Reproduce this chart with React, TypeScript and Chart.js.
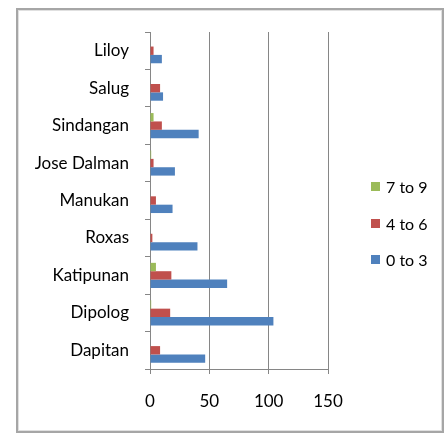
import React, { useEffect, useRef } from "react";
import { Chart, registerables } from "chart.js";

Chart.register(...registerables);

const categories = ["Liloy", "Salug", "Sindangan", "Jose Dalman", "Manukan", "Roxas", "Katipunan", "Dipolog", "Dapitan"];
const series7to9 = [0, 0, 3, 1, 0, 0, 5, 1, 0];
const series4to6 = [3, 8.5, 10, 3, 5, 2, 18, 17, 8.5];
const series0to3 = [10, 11, 41, 21, 19, 40, 65, 104, 46.5];
const xTicks = [0, 50, 100, 150];

const seriesNames = ["7 to 9", "4 to 6", "0 to 3"];
const seriesColors = ["#9BBB59", "#C0504D", "#4F81BD"];
const seriesData = [series7to9, series4to6, series0to3];

const FONT = "Lato, 'Open Sans', sans-serif";
const GRID = "#868686";

export default function App() {
  const ref = useRef<HTMLCanvasElement | null>(null);

  useEffect(() => {
    if (!ref.current) return;
    const chart = new Chart(ref.current, {
      type: "bar",
      data: {
        labels: categories,
        datasets: seriesData.map((d, i) => ({
          label: seriesNames[i],
          data: d,
          backgroundColor: seriesColors[i],
          borderWidth: 0,
          barPercentage: 1,
          categoryPercentage: 0.67,
        })),
      },
      options: {
        indexAxis: "y",
        responsive: false,
        animation: false,
        devicePixelRatio: 1,
        layout: { padding: { top: 32, left: 0, right: 118, bottom: 25 } },
        plugins: {
          legend: { display: false },
          tooltip: { enabled: false },
        },
        scales: {
          y: {
            type: "category",
            grid: {
              display: true,
              drawOnChartArea: false,
              offset: true,
              tickLength: 5,
              color: GRID,
            },
            border: { display: true, color: GRID, width: 1 },
            ticks: { padding: 16, color: "#000", font: { family: FONT, size: 17 } },
            afterFit: (scale: any) => {
              scale.width = 150;
            },
          },
          x: {
            type: "linear",
            min: 0,
            max: 150,
            afterBuildTicks: (scale: any) => {
              scale.ticks = xTicks.map((v) => ({ value: v }));
            },
            grid: { color: GRID, tickLength: 5, drawTicks: true },
            border: { display: true, color: GRID, width: 1 },
            ticks: { padding: 17, color: "#000", font: { family: FONT, size: 17 } },
            afterFit: (scale: any) => {
              scale.height = 42;
            },
          },
        },
      },
    });
    return () => chart.destroy();
  }, []);

  const legendY = [186, 223, 259];

  return (
    <div style={{ position: "absolute", left: 0, top: 0, width: 446, height: 436, background: "#fff", overflow: "hidden" }}>
      <div
        style={{
          position: "absolute",
          left: 16,
          top: 8,
          width: 424,
          height: 421,
          border: "2px solid #a6a6a6",
          boxShadow: "inset 0 0 0 1px #e0e0e0",
        }}
      />
      <canvas ref={ref} width={446} height={436} style={{ position: "absolute", left: 0, top: 0 }} />
      {seriesNames.map((name, i) => (
        <div
          key={name}
          style={{
            position: "absolute",
            left: 371,
            top: legendY[i] - 11,
            height: 22,
            display: "flex",
            alignItems: "center",
            fontFamily: FONT,
            fontSize: 16,
            color: "#000",
            whiteSpace: "nowrap",
          }}
        >
          <span style={{ display: "inline-block", width: 9, height: 9, background: seriesColors[i], marginRight: 6 }} />
          {name}
        </div>
      ))}
    </div>
  );
}
